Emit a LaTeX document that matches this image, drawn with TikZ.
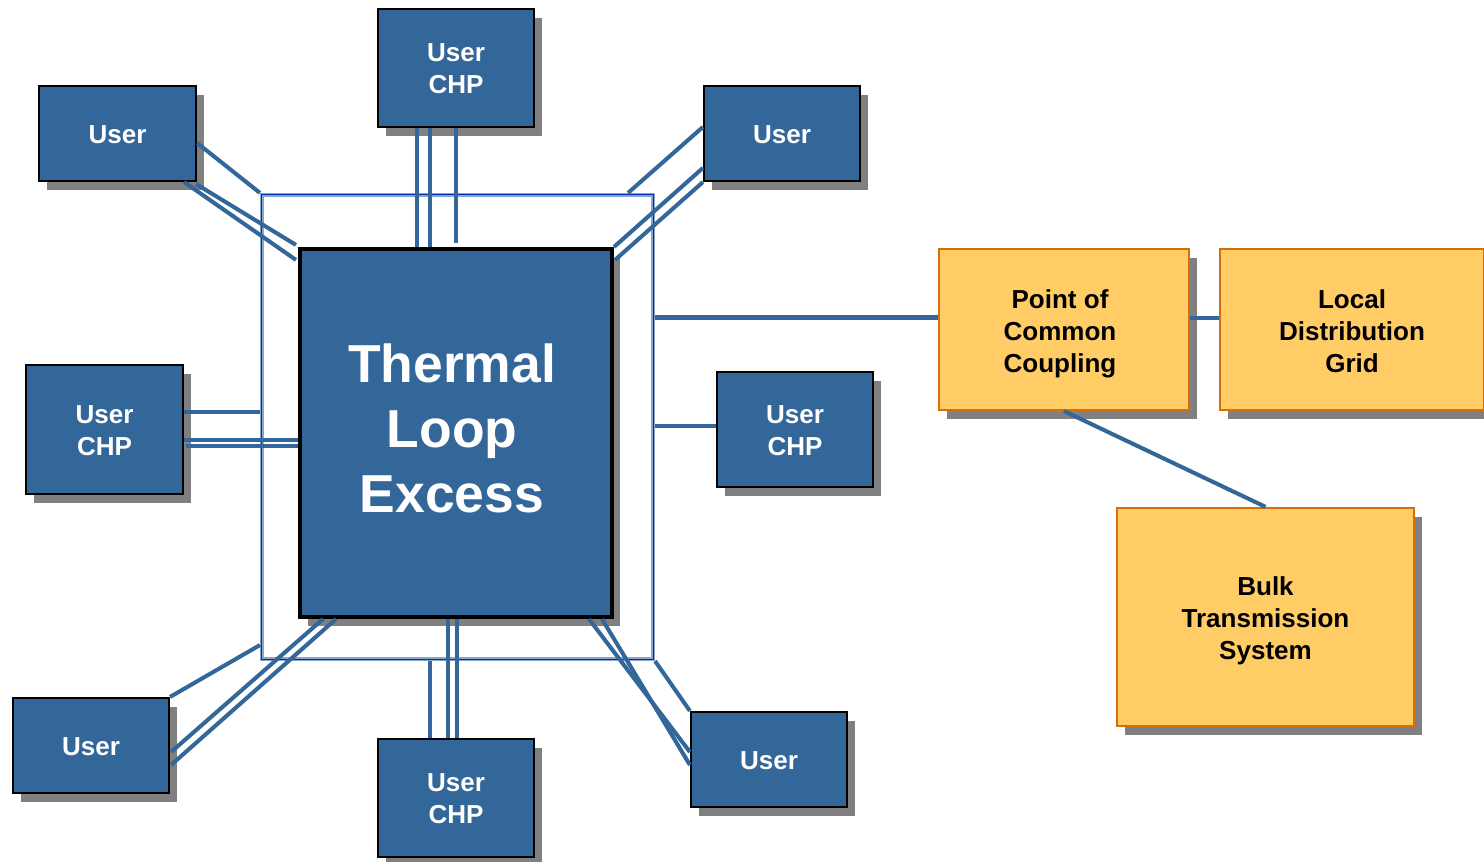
\documentclass[tikz,border=0pt]{standalone}
\usepackage{fontspec}
\setmainfont{Liberation Sans}
\usetikzlibrary{calc,shadows}
\definecolor{boxblue}{RGB}{51,102,153}
\definecolor{boxorange}{RGB}{255,204,102}
\definecolor{edgeorange}{RGB}{214,110,10}
\definecolor{shadowgray}{RGB}{128,128,128}
\definecolor{framelight}{RGB}{135,165,205}
\definecolor{framedark}{RGB}{0,45,175}
\tikzset{
  shad/.style={drop shadow={shadow xshift=0.08cm,shadow yshift=-0.09cm,fill=shadowgray,opacity=1}},
  bluebox/.style={shad,draw=black,line width=0.6pt,fill=boxblue,inner sep=0pt},
  centerbox/.style={shad,draw=black,line width=1.1pt,fill=boxblue,inner sep=0pt},
  orangebox/.style={shad,draw=edgeorange,line width=0.6pt,fill=boxorange,inner sep=0pt},
  btext/.style={text=white,align=center,font=\fontsize{7.4}{9.1}\selectfont\bfseries,inner sep=0pt,yshift=-0.3pt},
  otext/.style={text=black,align=center,font=\fontsize{7.4}{9.1}\selectfont\bfseries,inner sep=0pt,yshift=-1.1pt},
  ctext/.style={text=white,align=center,font=\fontsize{15.2}{18.5}\selectfont\bfseries,inner sep=0pt,yshift=1.2pt,xshift=-0.04cm},
  framebox/.style={draw=framelight,line width=1.1pt,inner sep=0pt},
  conn/.style={draw=boxblue,line width=1.15pt},
}
\begin{document}
\begin{tikzpicture}[x=0.01cm,y=-0.01cm]
\useasboundingbox (0,0) rectangle (1484,862);
% frame
\node[framebox,minimum width=3.91cm,minimum height=4.64cm] (fr) at (457.5,427) {};
\draw[framedark,line width=0.35pt] ($(fr.north west)+(1.5,1.5)$) rectangle ($(fr.south east)+(-1.5,-1.5)$);
% centre
\node[centerbox,minimum width=3.12cm,minimum height=3.68cm,
  label={[ctext]center:Thermal\\Loop\\Excess}] (th) at (456,433) {};
% user boxes
\node[bluebox,minimum width=1.57cm,minimum height=0.95cm,label={[btext]center:User}] (ul) at (117.5,133.5) {};
\node[bluebox,minimum width=1.56cm,minimum height=1.18cm,label={[btext]center:User\\CHP}] (tc) at (456,68) {};
\node[bluebox,minimum width=1.56cm,minimum height=0.95cm,label={[btext]center:User}] (ur) at (782,133.5) {};
\node[bluebox,minimum width=1.57cm,minimum height=1.29cm,label={[btext]center:User\\CHP}] (lc) at (104.5,429.5) {};
\node[bluebox,minimum width=1.56cm,minimum height=1.15cm,label={[btext]center:User\\CHP}] (rc) at (795,429.5) {};
\node[bluebox,minimum width=1.56cm,minimum height=0.95cm,label={[btext]center:User}] (bl) at (91,745.5) {};
\node[bluebox,minimum width=1.56cm,minimum height=1.18cm,label={[btext]center:User\\CHP}] (bc) at (456,798) {};
\node[bluebox,minimum width=1.56cm,minimum height=0.95cm,label={[btext]center:User}] (br) at (769,759.5) {};
% grid boxes
\node[orangebox,minimum width=2.50cm,minimum height=1.61cm,label={[otext,xshift=-0.04cm]center:Point of\\Common\\Coupling}] (pcc) at (1064,329.5) {};
\node[orangebox,minimum width=2.64cm,minimum height=1.61cm,label={[otext,yshift=0.5pt]center:Local\\Distribution\\Grid}] (ldg) at (1352,329.5) {};
\node[orangebox,minimum width=2.97cm,minimum height=2.18cm,label={[otext]center:Bulk\\Transmission\\System}] (bts) at (1265.5,617) {};
% connectors: top-left user
\draw[conn] ($(ul.east)+(0,9.5)$) -- (fr.north west);
\draw[conn] ($(ul.south east)+(-13,0)$) -- ($(th.north west)+(-2,13)$);
\draw[conn] ($(ul.south east)+(-1,2)$) -- ($(th.north west)+(-2,-2)$);
% top CHP
\draw[conn] ($(tc.south)+(-39,0)$) -- ($(th.north)+(-39,0)$);
\draw[conn] ($(tc.south)+(-26,0)$) -- ($(th.north)+(-26,0)$);
\draw[conn] (tc.south) -- ($(th.north)+(0,-4)$);
% top-right user
\draw[conn] ($(ur.west)+(0,-6.5)$) -- ($(fr.north east)+(-27,0)$);
\draw[conn] ($(ur.west)+(0,34.5)$) -- (th.north east);
\draw[conn] (ur.south west) -- ($(th.north east)+(1,13)$);
% left CHP
\coordinate (lca) at ($(lc.east)+(0,-17.5)$);
\draw[conn] (lca) -- (fr.west |- lca);
\coordinate (lcb) at ($(lc.east)+(0,10.5)$);
\draw[conn] (lcb) -- (th.west |- lcb);
\coordinate (lcc) at ($(lc.east)+(2,16.5)$);
\draw[conn] (lcc) -- (th.west |- lcc);
% right CHP
\coordinate (rca) at ($(rc.west)+(0,-3.5)$);
\draw[conn] (fr.east |- rca) -- (rca);
% PCC
\coordinate (pca) at ($(pcc.west)+(0,-12)$);
\draw[conn] (fr.east |- pca) -- (pca);
\coordinate (pcb) at ($(pcc.east)+(0,-11.5)$);
\draw[conn] (pcb) -- (ldg.west |- pcb);
\draw[conn] (pcc.south) -- (bts.north);
% bottom-left user
\draw[conn] (bl.north east) -- ($(fr.south west)+(0,-16)$);
\draw[conn] ($(bl.east)+(1,6.5)$) -- ($(th.south west)+(25,0)$);
\draw[conn] ($(bl.east)+(1,19.5)$) -- ($(th.south west)+(38,0)$);
% bottom CHP
\draw[conn] ($(bc.north)+(-26,0)$) -- ($(fr.south)+(-27.5,0)$);
\draw[conn] ($(bc.north)+(-8,0)$) -- ($(th.south)+(-8,0)$);
\draw[conn] ($(bc.north)+(1,0)$) -- ($(th.south)+(1,0)$);
% bottom-right user
\draw[conn] ($(th.south east)+(-25,0)$) -- ($(br.west)+(0,-7.5)$);
\draw[conn] ($(th.south east)+(-12,0)$) -- ($(br.west)+(0,5.5)$);
\draw[conn] (fr.south east) -- (br.north west);
\end{tikzpicture}
\end{document}
